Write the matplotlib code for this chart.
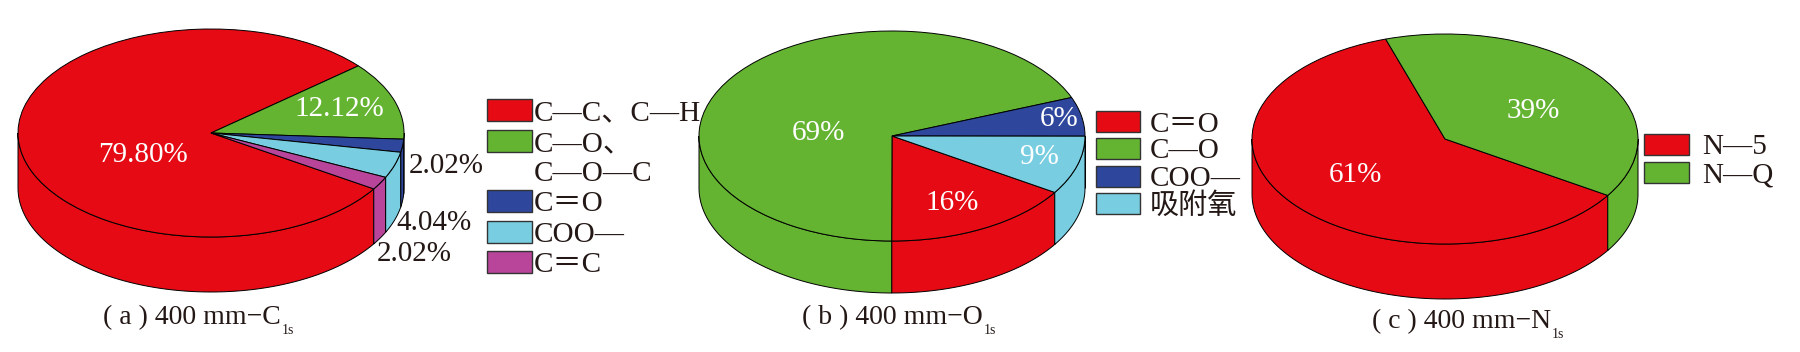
import numpy as np
import matplotlib
matplotlib.use("Agg")
import matplotlib.pyplot as plt
from matplotlib.patches import Polygon, Rectangle

plt.rcParams['font.family'] = ['Liberation Serif', 'Noto Sans CJK SC', 'DejaVu Sans']

# Colours, same order as the legends
RED = '#E60A14'
GREEN = '#64B432'
BLUE = '#2E479C'
CYAN = '#78CDE0'
PURPLE = '#B8459A'
TEXT = '#231815'

# Data
c1s_labels = ['C—C、C—H', 'C—O、\nC—O—C', 'C＝O', 'COO—', 'C＝C']
c1s_values = [79.80, 12.12, 2.02, 4.04, 2.02]
c1s_colors = [RED, GREEN, BLUE, CYAN, PURPLE]

o1s_labels = ['C＝O', 'C—O', 'COO—', '吸附氧']
o1s_values = [16, 69, 6, 9]
o1s_colors = [RED, GREEN, BLUE, CYAN]

n1s_labels = ['N—5', 'N—Q']
n1s_values = [61, 39]
n1s_colors = [RED, GREEN]

W, H = 1800, 352
START = -32.5  # all three pies have their first slice starting here
PAD = 0.05


def draw_pie(fig, values, colors, cx, cy, rx, ry, thick):
    h = thick / ry
    left = cx - rx * (1 + PAD)
    bottom = H - (cy + ry + thick + ry * PAD)
    width = 2 * rx * (1 + PAD)
    height = ry * (2 + h + 2 * PAD)
    ax = fig.add_axes([left / W, bottom / H, width / W, height / H])

    ax.pie(values, colors=colors, startangle=START, counterclock=False, radius=1,
           wedgeprops={'edgecolor': 'black', 'linewidth': 0.7, 'zorder': 3})

    # side wall of the disc, only the front half shows
    angle = START
    for v, col in zip(values, colors):
        a1 = angle
        a2 = angle - 3.6 * v
        for shift in (0, 360):
            lo = max(a2 + shift, -180)
            hi = min(a1 + shift, 0)
            if hi <= lo:
                continue
            t = np.radians(np.linspace(lo, hi, 80))
            top = np.column_stack([np.cos(t), np.sin(t)])
            low = top[::-1] - [0, h]
            ax.add_patch(Polygon(np.vstack([top, low]), closed=True, facecolor=col,
                                 edgecolor='black', linewidth=0.7, zorder=1))
        angle = a2

    ax.set_aspect('auto')
    ax.set_xlim(-1 - PAD, 1 + PAD)
    ax.set_ylim(-1 - h - PAD, 1 + PAD)
    ax.axis('off')


def draw_legend(ax, labels, colors, x, tops, size, text_x):
    for lab, col, y in zip(labels, colors, tops):
        ax.add_patch(Rectangle((x, y), size[0], size[1], facecolor=col,
                               edgecolor='#333333', linewidth=1.0))
        # multi line labels are placed line by line, baseline is fixed
        for i, line in enumerate(lab.split('\n')):
            ax.text(text_x, y + size[1] / 2 + 10 + i * 30, line, fontsize=21, color=TEXT,
                    va='baseline', ha='left')


fig = plt.figure(figsize=(W / 100, H / 100), dpi=100)
fig.patch.set_facecolor('white')

draw_pie(fig, c1s_values, c1s_colors, 211, 133, 193, 104, 55)
draw_pie(fig, o1s_values, o1s_colors, 892, 136, 193, 105, 52)
draw_pie(fig, n1s_values, n1s_colors, 1445, 139, 193, 105, 55)

# overlay in pixel coordinates for legends and labels
over = fig.add_axes([0, 0, 1, 1])
over.set_xlim(0, W)
over.set_ylim(H, 0)
over.axis('off')
over.patch.set_alpha(0)

draw_legend(over, c1s_labels, c1s_colors, 487, [99, 130, 190, 221, 251], (45, 22), 534)
draw_legend(over, o1s_labels, o1s_colors, 1096, [111, 138, 166, 193], (44, 21), 1150)
draw_legend(over, n1s_labels, n1s_colors, 1644, [134, 162], (45, 21), 1702)

# percent labels
white_labels = [('79.80%', 143, 155), ('12.12%', 339, 109), ('69%', 818, 133),
                ('6%', 1059, 119), ('9%', 1039, 157), ('16%', 952, 203),
                ('39%', 1533, 111), ('61%', 1355, 175)]
dark_labels = [('2.02%', 446, 166), ('4.04%', 434, 223), ('2.02%', 414, 254)]
for txt, x, y in white_labels:
    over.text(x, y, txt, color='white', fontsize=21, ha='center', va='center')
for txt, x, y in dark_labels:
    over.text(x, y, txt, color=TEXT, fontsize=21, ha='center', va='center')

# captions
captions = [('( a ) 400 mm−C', 103, 318), ('( b ) 400 mm−O', 802, 318), ('( c ) 400 mm−N', 1372, 322)]
for txt, x, y in captions:
    t = over.text(x, y, txt, color=TEXT, fontsize=20, ha='left', va='center')
    fig.canvas.draw()
    box = t.get_window_extent()
    over.text(box.x1 + 1, y + 13, '1s', color=TEXT, fontsize=10, ha='left', va='center')

fig.savefig('out.png', dpi=100)
